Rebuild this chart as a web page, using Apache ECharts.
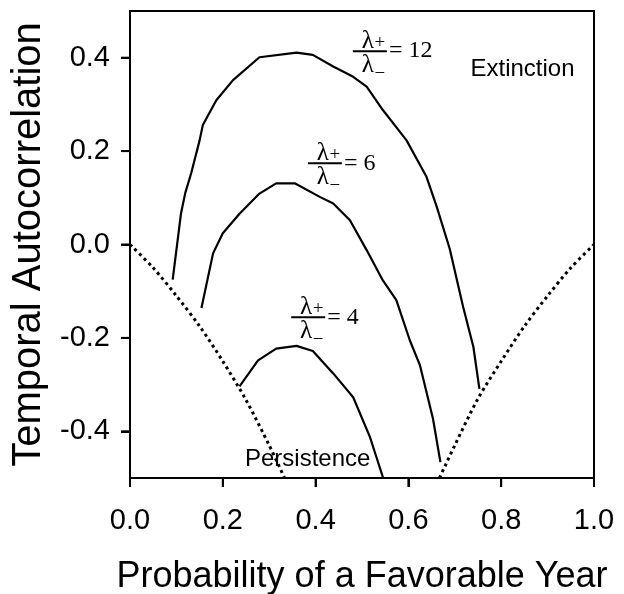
<!DOCTYPE html>
<html>
<head>
<meta charset="utf-8">
<script src="https://cdn.jsdelivr.net/npm/echarts@6/dist/echarts.min.js"></script>
<style>
  html, body { margin: 0; padding: 0; background: #fff; }
  #chart { width: 624px; height: 594px; }
</style>
</head>
<body>
<div id="chart"></div>
<script>
    // 坐标轴刻度
    var xTicks = [0, 0.2, 0.4, 0.6, 0.8, 1.0];
    var yTicks = [-0.4, -0.2, 0, 0.2, 0.4];

    // 三条曲线 (p, 自相关)
    var ratio12 = [
        [0.092, -0.075], [0.110, 0.067], [0.119, 0.110], [0.132, 0.153], [0.150, 0.223],
        [0.157, 0.256], [0.186, 0.309], [0.222, 0.352], [0.279, 0.401], [0.359, 0.411],
        [0.394, 0.406], [0.438, 0.381], [0.481, 0.359], [0.510, 0.338], [0.545, 0.288],
        [0.596, 0.223], [0.639, 0.145], [0.661, 0.081], [0.689, -0.009], [0.718, -0.134],
        [0.740, -0.219], [0.753, -0.309]
    ];
    var ratio6 = [
        [0.154, -0.136], [0.179, -0.019], [0.200, 0.024], [0.236, 0.066], [0.279, 0.109],
        [0.315, 0.131], [0.355, 0.131], [0.409, 0.102], [0.438, 0.088], [0.474, 0.052],
        [0.510, -0.012], [0.545, -0.077], [0.574, -0.119], [0.603, -0.205], [0.625, -0.259],
        [0.653, -0.373], [0.669, -0.466]
    ];
    var ratio4 = [
        [0.236, -0.304], [0.276, -0.248], [0.315, -0.223], [0.359, -0.217], [0.394, -0.228],
        [0.438, -0.276], [0.481, -0.327], [0.517, -0.412], [0.531, -0.455], [0.545, -0.498]
    ];

    // 虚线边界
    var boundLow = [
        [0, 0], [0.05, -0.05], [0.1, -0.11], [0.15, -0.175], [0.2, -0.25],
        [0.25, -0.333], [0.3, -0.43], [0.333, -0.5]
    ];
    var boundHigh = [
        [0.667, -0.5], [0.7, -0.43], [0.75, -0.33], [0.8, -0.25], [0.85, -0.175],
        [0.9, -0.11], [0.95, -0.05], [1.0, 0]
    ];

    // 比值标注
    var ratioValues = ['12', '6', '4'];
    var ratioPos = [[0.517, 0.414], [0.420, 0.174], [0.384, -0.156]];
    var regionNames = ['Extinction', 'Persistence'];
    var regionPos = [[0.846, 0.376], [0.383, -0.460]];

    var serif = '"Liberation Serif", "DejaVu Serif", serif';
    var sans = '"Liberation Sans", Arial, sans-serif';
    var X_MIN = 0, Y_MIN = -0.5;

    function renderRatio(params, api) {
        var pt = api.coord([api.value(0), api.value(1)]);
        var cx = pt[0], cy = pt[1];
        return {
            type: 'group',
            children: [
                { type: 'line', shape: { x1: cx - 17, y1: cy, x2: cx + 17, y2: cy },
                  style: { stroke: '#000', lineWidth: 2 } },
                { type: 'text', x: cx - 2, y: cy + 3,
                  style: { text: 'λ', fontFamily: serif, fontSize: 25, fill: '#000', align: 'center', verticalAlign: 'bottom' } },
                { type: 'text', x: cx + 10, y: cy + 1,
                  style: { text: '+', fontFamily: serif, fontSize: 19, fill: '#000', align: 'center', verticalAlign: 'bottom' } },
                { type: 'text', x: cx - 2, y: cy + 2,
                  style: { text: 'λ', fontFamily: serif, fontSize: 25, fill: '#000', align: 'center', verticalAlign: 'top' } },
                { type: 'text', x: cx + 10, y: cy + 13,
                  style: { text: '−', fontFamily: serif, fontSize: 19, fill: '#000', align: 'center', verticalAlign: 'top' } },
                { type: 'text', x: cx + 19, y: cy,
                  style: { text: '= ' + ratioValues[params.dataIndex], fontFamily: serif, fontSize: 24, fill: '#000', align: 'left', verticalAlign: 'middle' } }
            ]
        };
    }

    function renderRegion(params, api) {
        var pt = api.coord([api.value(0), api.value(1)]);
        return {
            type: 'text', x: pt[0], y: pt[1],
            style: { text: regionNames[params.dataIndex], fontFamily: sans, fontSize: 24, fill: '#000',
                     align: 'center', verticalAlign: 'middle' }
        };
    }

    // 刻度线 (朝外)
    function renderTicks(params, api) {
        var kids = [];
        xTicks.forEach(function (v) {
            var p = api.coord([v, Y_MIN]);
            kids.push({ type: 'line', shape: { x1: p[0], y1: p[1], x2: p[0], y2: p[1] + 9 },
                        style: { stroke: '#000', lineWidth: 2 } });
        });
        yTicks.forEach(function (v) {
            var p = api.coord([X_MIN, v]);
            kids.push({ type: 'line', shape: { x1: p[0], y1: p[1], x2: p[0] - 9, y2: p[1] },
                        style: { stroke: '#000', lineWidth: 2 } });
        });
        return { type: 'group', children: kids };
    }

    function curve(name, data, dashed) {
        return {
            name: name,
            type: 'line',
            data: data,
            showSymbol: false,
            smooth: dashed ? 0.3 : false,
            lineStyle: { color: '#000', width: dashed ? 3 : 2.2, type: dashed ? [3, 3.5] : 'solid' },
            z: 3
        };
    }

    var myChart = echarts.init(document.getElementById('chart'));
    var option = {
        animation: false,
        grid: {
            left: 130, right: 30, top: 11, bottom: 116,
            outerBoundsMode: 'none',
            show: true, borderColor: '#000', borderWidth: 2
        },
        xAxis: {
            type: 'value',
            min: X_MIN, max: 1, interval: 0.2,
            name: 'Probability of a Favorable Year',
            nameLocation: 'middle',
            nameGap: 81,
            nameTextStyle: { fontFamily: sans, fontSize: 36, color: '#000' },
            axisLine: { onZero: false, lineStyle: { color: '#000', width: 2 } },
            axisTick: { show: true, inside: false, length: 9, lineStyle: { color: '#000', width: 2 } },
            axisLabel: { fontFamily: sans, fontSize: 29, color: '#000', margin: 28,
                         formatter: function (v) { return v.toFixed(1); } },
            splitLine: { show: false }
        },
        yAxis: {
            type: 'value',
            min: Y_MIN, max: 0.5,
            name: 'Temporal Autocorrelation',
            nameLocation: 'middle',
            nameRotate: 90,
            nameGap: 76,
            nameTextStyle: { fontFamily: sans, fontSize: 40, color: '#000' },
            axisLine: { onZero: false, lineStyle: { color: '#000', width: 2 } },
            axisTick: { show: true, inside: false, length: 9, lineStyle: { color: '#000', width: 2 }, customValues: yTicks },
            axisLabel: { fontFamily: sans, fontSize: 29, color: '#000', margin: 20, customValues: yTicks,
                         formatter: function (v) { return v.toFixed(1); } },
            splitLine: { show: false }
        },
        series: [
            curve('12', ratio12, false),
            curve('6', ratio6, false),
            curve('4', ratio4, false),
            curve('low', boundLow, true),
            curve('high', boundHigh, true),
            { type: 'custom', renderItem: renderRatio, data: ratioPos, clip: false, z: 5 },
            { type: 'custom', renderItem: renderRegion, data: regionPos, clip: false, z: 5 },
            { type: 'custom', renderItem: renderTicks, data: [[X_MIN, Y_MIN]], clip: false, z: 5 }
        ]
    };
    myChart.setOption(option);
</script>
</body>
</html>
